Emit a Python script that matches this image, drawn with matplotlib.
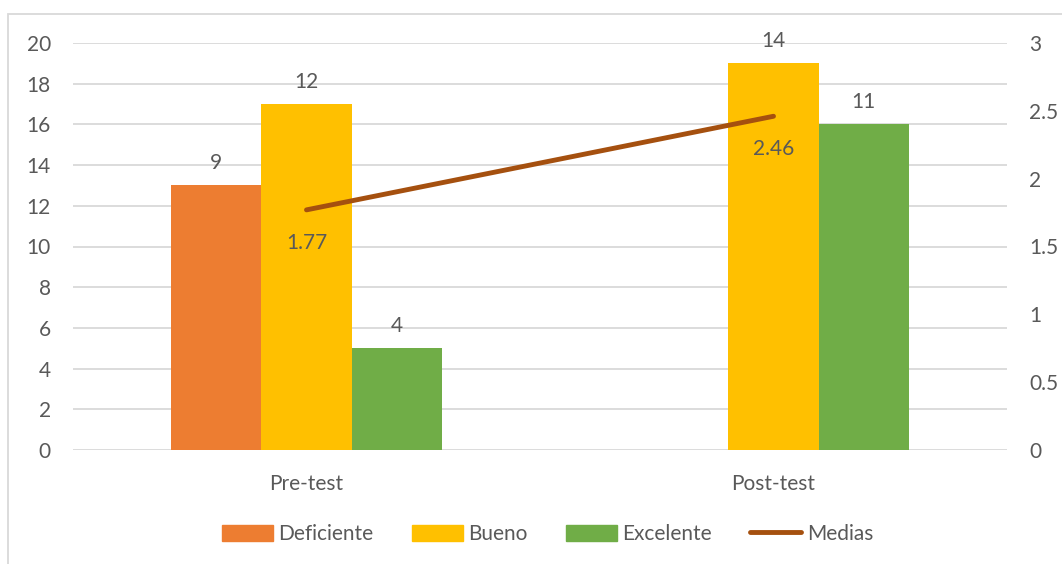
import matplotlib.pyplot as plt
import numpy as np
from matplotlib.patches import Rectangle, Patch
from matplotlib.lines import Line2D

plt.rcParams['font.family'] = ['Lato', 'DejaVu Sans']

categories = ['Pre-test', 'Post-test']
series = ['Deficiente', 'Bueno', 'Excelente']
# bar heights as drawn (left axis) and the labels printed on them
heights = {'Deficiente': [13, 0], 'Bueno': [17, 19], 'Excelente': [5, 16]}
labels = {'Deficiente': ['9', ''], 'Bueno': ['12', '14'], 'Excelente': ['4', '11']}
medias = [1.77, 2.46]

colors = {'Deficiente': '#ED7D31', 'Bueno': '#FFC000', 'Excelente': '#70AD47'}
line_color = '#A5500F'
text_color = '#595959'
grid_color = '#D9D9D9'
fs = 15

fig = plt.figure(figsize=(10.62, 5.64), dpi=100)
ax = fig.add_axes([73/1062, 1 - 450/564, 934/1062, 407/564])
ax2 = ax.twinx()

x = np.arange(len(categories))
w = 0.193
for i, s in enumerate(series):
    xs = x + (i - 1) * w
    bars = ax.bar(xs, heights[s], width=w, color=colors[s], zorder=2)
    for b, lab in zip(bars, labels[s]):
        if lab:
            ax.text(b.get_x() + b.get_width()/2, b.get_height() + 0.6, lab,
                    ha='center', va='bottom', fontsize=fs, color=text_color)

ax2.plot(x, medias, color=line_color, lw=3.5, solid_capstyle='round', zorder=3)
for xi, m in zip(x, medias):
    ax2.text(xi, m - 0.17, f'{m:.2f}', ha='center', va='top', fontsize=fs,
             color=text_color)

ax.set_xlim(-0.5, 1.5)
ax.set_ylim(0, 20)
ax.set_yticks(range(0, 21, 2))
ax2.set_ylim(0, 3)
ax2.set_yticks([0, 0.5, 1, 1.5, 2, 2.5, 3])
ax2.set_yticklabels(['0', '0.5', '1', '1.5', '2', '2.5', '3'])
ax.set_xticks(x)
ax.set_xticklabels(categories)
ax.yaxis.grid(True, color=grid_color, lw=1.3, zorder=0)
ax.set_axisbelow(True)
ax2.set_zorder(ax.get_zorder() + 1)
ax2.patch.set_visible(False)

for a in (ax, ax2):
    for sp in a.spines.values():
        sp.set_visible(False)
    a.tick_params(length=0, labelsize=fs, labelcolor=text_color)
ax.tick_params(axis='y', pad=16)
ax.tick_params(axis='x', pad=17)
ax2.tick_params(axis='y', pad=16)

handles = [Patch(color=colors[s]) for s in series]
handles.append(Line2D([0], [0], color=line_color, lw=3.5, solid_capstyle='round'))
fig.legend(handles, series + ['Medias'], loc='center', bbox_to_anchor=(0.5155, 1 - 534/564),
           ncol=4, frameon=False, fontsize=fs, labelcolor=text_color,
           handlelength=2.45, handleheight=0.8, handletextpad=0.25, columnspacing=1.85)

fig.patches.append(Rectangle((8/1062, -0.1), 1.2, 1 - 14/564 + 0.1, transform=fig.transFigure,
                             fill=False, edgecolor=grid_color, lw=1.3))

fig.savefig('out.png', dpi=100)
